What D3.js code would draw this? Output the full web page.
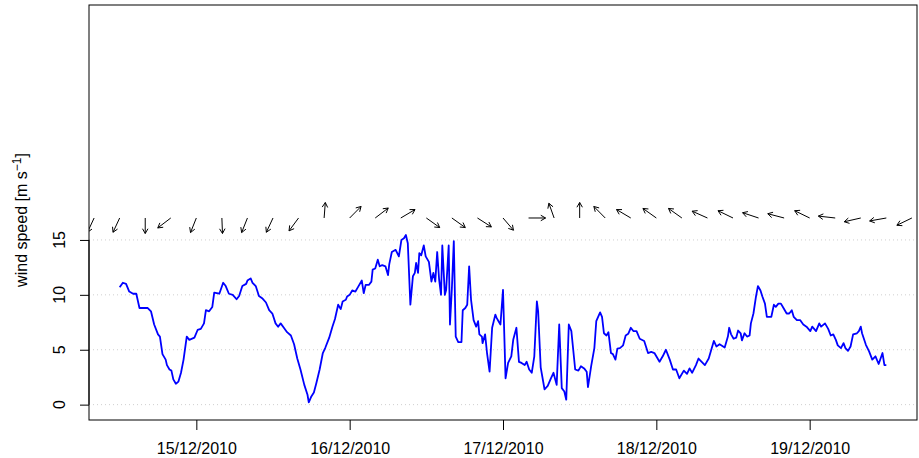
<!DOCTYPE html>
<html>
<head>
<meta charset="utf-8">
<script src="https://cdn.jsdelivr.net/npm/d3@7"></script>
<style>
body { margin: 0; background: #fff; }
text { font-family: "Liberation Sans", Arial, Helvetica, sans-serif; }
</style>
</head>
<body>
<div id="chart"></div>
<script>
// all times are hours after 14/12/2010 00:00
var speedHours = [12.0,12.5,13.0,13.5,14.1,14.6,15.1,16.4,16.9,17.4,18.0,18.3,18.7,19.2,19.4,19.8,20.1,20.4,20.8,21.2,21.6,22.0,22.5,22.9,23.7,
	24.2,24.7,25.2,25.5,26.0,26.5,26.8,27.6,28.2,28.6,29.1,29.7,30.3,30.7,31.2,31.8,32.0,32.5,32.8,33.3,33.8,34.3,34.9,35.4,35.9,36.4,36.8,37.2,37.7,38.2,38.8,39.3,39.8,40.3,40.9,41.4,41.6,42.0,42.4,42.8,43.3,43.8,44.2,44.8,45.3,45.7,46.2,46.6,46.9,47.4,47.6,
	48.0,48.4,48.9,49.3,49.9,50.2,50.5,51.0,51.4,51.6,52.0,52.4,52.7,53.1,53.6,54.0,54.2,54.6,55.2,55.7,56.1,56.5,56.8,57.1,57.5,57.9,58.2,58.4,58.7,58.9,59.2,59.6,59.9,60.4,60.8,61.1,61.4,61.7,62.0,62.3,62.5,62.9,63.1,63.5,63.7,64.0,64.3,64.6,65.0,65.5,65.7,66.1,66.4,66.7,67.0,67.4,67.8,68.1,68.3,68.7,68.8,69.2,69.5,69.9,70.3,70.8,71.0,71.3,71.6,
	72.0,72.4,72.8,73.3,73.6,74.1,74.5,74.9,75.4,75.7,76.1,76.5,76.9,77.3,77.5,77.9,78.5,79.0,79.5,79.9,80.4,80.8,81.2,81.6,81.9,82.3,82.7,83.3,83.8,84.2,84.7,85.1,85.3,85.8,86.3,86.6,87.2,87.5,87.8,88.2,88.5,88.9,89.2,89.6,89.9,90.3,90.8,91.2,91.6,92.0,92.4,92.9,93.4,94.1,94.7,95.2,95.7,
	96.5,97.0,97.5,98.1,98.6,99.1,99.6,100.3,100.8,101.2,101.6,102.2,102.6,103.1,103.6,104.2,104.6,105.0,105.4,105.9,106.7,107.2,107.4,107.7,108.1,108.5,108.8,109.2,109.4,109.8,110.2,110.6,110.8,111.2,111.6,111.9,112.3,112.6,113.0,113.3,114.0,114.4,114.7,115.1,115.5,115.9,116.4,116.8,117.2,117.5,118.0,118.5,119.0,119.5,
	120.1,120.4,121.0,121.5,121.8,122.4,122.9,123.3,123.7,124.1,124.4,124.9,125.3,125.6,126.0,126.4,126.8,127.4,127.7,128.0,128.2,128.8,129.3,129.8,130.3,130.8,131.4,131.7,132.0];
var speedValues = [10.7,11.1,11.0,10.3,10.1,10.1,8.8,8.8,8.5,7.3,6.4,6.2,4.6,4.1,3.6,3.2,3.1,2.3,1.9,2.1,2.9,4.1,6.2,5.9,6.1,
	6.8,6.9,7.4,8.6,8.5,8.9,10.2,10.1,11.1,10.8,10.1,10.0,9.6,9.9,10.8,11.0,11.3,11.5,11.1,10.8,9.9,9.7,9.3,8.6,8.3,7.4,7.1,7.4,7.0,6.6,6.3,5.5,4.2,3.2,1.8,0.9,0.2,0.75,1.1,2.0,3.2,4.7,5.2,6.1,7.1,7.8,9.1,8.7,9.4,9.55,9.85,
	10.0,10.4,10.3,10.7,11.3,10.15,10.9,10.9,11.2,12.3,12.4,13.2,12.6,12.7,12.6,11.8,12.8,13.9,14.1,13.5,15.0,15.15,15.45,14.7,9.1,11.7,12.0,12.9,12.0,13.8,13.6,14.5,13.5,13.0,11.2,12.0,11.2,13.9,11.4,10.0,14.5,10.0,10.45,14.5,7.3,10.6,14.9,6.2,5.7,5.7,8.6,8.8,9.1,12.6,9.55,7.7,7.1,7.6,6.4,6.2,5.6,6.4,4.7,3.0,7.0,8.2,7.9,7.6,7.3,
	10.45,2.4,3.8,4.4,5.9,7.0,3.9,3.8,3.6,3.9,3.2,2.9,4.4,9.4,8.5,3.4,1.4,1.7,2.4,2.9,1.8,7.3,1.5,1.2,0.45,7.3,6.7,3.2,3.1,3.5,3.3,3.0,1.6,3.5,5.15,7.6,8.4,8.0,6.5,6.3,6.6,4.7,4.6,4.1,5.1,5.15,5.4,6.3,6.45,7.0,6.7,6.7,6.0,5.8,4.7,4.8,4.7,
	3.9,4.4,5.0,4.1,3.2,3.2,2.4,3.1,2.8,3.3,2.9,3.6,4.2,3.9,3.6,4.2,5.0,5.8,5.3,5.5,5.2,6.2,7.0,6.4,6.0,6.1,6.75,6.5,5.85,6.5,6.2,6.3,7.4,8.3,9.85,10.8,10.4,9.85,9.2,8.0,8.0,9.1,8.9,9.2,9.2,8.8,8.3,8.3,8.6,8.0,7.7,7.7,7.3,7.1,
	6.7,7.1,6.7,7.4,7.1,7.4,6.9,6.3,6.4,5.9,5.4,5.15,5.6,5.15,4.9,5.3,6.4,6.5,6.7,7.1,6.5,5.45,4.85,4.1,4.4,3.7,4.7,3.6,3.6];

// wind direction (degrees, direction the wind comes from), one every 4 hours
var arrowHours = [8,12,16,20,24,28,32,36,40,44,48,52,56,60,64,68,72,76,80,84,88,92,96,100,104,108,112,116,120,124,128,132,136];
var windDir = [23,23,0,50,20,358,20,23,34,184,222,230,237,308,308,305,322,270,162,180,138,123,128,128,116,118,110,106,118,97,76,79,62];
var arrowLevel = 17;

var yTicks = [0, 5, 10, 15];
var dayHours = [24, 48, 72, 96, 120];
var dayLabels = ["15/12/2010", "16/12/2010", "17/12/2010", "18/12/2010", "19/12/2010"];

var width = 919, height = 458;
var plot = {left: 89, right: 917, top: 5, bottom: 420};
var t0 = Date.UTC(2010, 11, 14);
function toDate(h) { return new Date(t0 + h * 3600000); }

var svg = d3.select("#chart").append("svg")
	.attr("width", width)
	.attr("height", height);

// R style axis limits: data range plus 4% each side
var hExt = d3.extent(speedHours), hPad = (hExt[1] - hExt[0]) * 0.04;
var x = d3.scaleUtc()
	.domain([toDate(hExt[0] - hPad), toDate(hExt[1] + hPad)])
	.range([plot.left, plot.right]);
var yLim = [0, 35], yPad = (yLim[1] - yLim[0]) * 0.04;
var y = d3.scaleLinear()
	.domain([yLim[0] - yPad, yLim[1] + yPad])
	.range([plot.bottom, plot.top]);

svg.append("clipPath").attr("id", "clip")
	.append("rect")
	.attr("x", plot.left).attr("y", plot.top)
	.attr("width", plot.right - plot.left).attr("height", plot.bottom - plot.top);

// dotted grid
svg.append("g").selectAll("line")
	.data(yTicks)
	.enter().append("line")
	.attr("x1", plot.left).attr("x2", plot.right)
	.attr("y1", d => y(d)).attr("y2", d => y(d))
	.attr("stroke", "#cfcfcf")
	.attr("stroke-width", 1)
	.attr("stroke-dasharray", "1 3");

var g = svg.append("g").attr("clip-path", "url(#clip)");

g.append("path")
	.datum(speedHours.map((h, i) => [h, speedValues[i]]))
	.attr("fill", "none")
	.attr("stroke", "#0000ff")
	.attr("stroke-width", 1.8)
	.attr("stroke-linejoin", "round")
	.attr("d", d3.line()
		.x(d => x(toDate(d[0])))
		.y(d => y(d[1])));

// wind arrows, tail at the time, pointing where the wind goes
var lenX = 17, lenY = 15.5, head = 5.5;
arrowHours.forEach(function (h, i) {
	var b = (windDir[i] + 180) * Math.PI / 180;
	var x0 = x(toDate(h)), y0 = y(arrowLevel);
	var x1 = x0 + Math.sin(b) * lenX, y1 = y0 - Math.cos(b) * lenY;
	var a = Math.atan2(y1 - y0, x1 - x0);
	var p = "M" + x0 + "," + y0 + "L" + x1 + "," + y1 +
		"M" + (x1 - head * Math.cos(a - Math.PI / 6)) + "," + (y1 - head * Math.sin(a - Math.PI / 6)) +
		"L" + x1 + "," + y1 +
		"L" + (x1 - head * Math.cos(a + Math.PI / 6)) + "," + (y1 - head * Math.sin(a + Math.PI / 6));
	g.append("path")
		.attr("d", p)
		.attr("fill", "none")
		.attr("stroke", "#000")
		.attr("stroke-width", 1);
});

// box
svg.append("rect")
	.attr("x", plot.left).attr("y", plot.top)
	.attr("width", plot.right - plot.left).attr("height", plot.bottom - plot.top)
	.attr("fill", "none")
	.attr("stroke", "#000")
	.attr("stroke-width", 1);

// x axis
var xAxis = svg.append("g")
	.attr("transform", "translate(0," + plot.bottom + ")")
	.call(d3.axisBottom(x)
		.tickValues(dayHours.map(toDate))
		.tickFormat((d, i) => dayLabels[i])
		.tickSize(10)
		.tickSizeOuter(0)
		.tickPadding(13));
xAxis.select(".domain").remove();
xAxis.selectAll("text").style("font-size", "16px").attr("fill", "#000")
	.style("font-family", "'Liberation Sans', Arial, sans-serif");
xAxis.selectAll("line").attr("stroke", "#000");

// y axis
var yAxis = svg.append("g")
	.attr("transform", "translate(" + plot.left + ",0)")
	.call(d3.axisLeft(y)
		.tickValues(yTicks)
		.tickFormat("")
		.tickSize(9)
		.tickSizeOuter(0));
yAxis.select(".domain").remove();
yAxis.selectAll("line").attr("stroke", "#000");
svg.append("line")
	.attr("x1", plot.left).attr("x2", plot.left)
	.attr("y1", y(yTicks[0])).attr("y2", y(yTicks[yTicks.length - 1]))
	.attr("stroke", "#000");

svg.append("g").selectAll("text")
	.data(yTicks)
	.enter().append("text")
	.attr("transform", d => "translate(65," + y(d) + ") rotate(-90)")
	.attr("text-anchor", "middle")
	.style("font-size", "16px")
	.text(d => d);

var ylab = svg.append("text")
	.attr("transform", "translate(27,220) rotate(-90)")
	.attr("text-anchor", "middle")
	.style("font-size", "16px");
ylab.append("tspan").text("wind speed [m s");
ylab.append("tspan").attr("dy", -6).style("font-size", "12px").text("\u22121");
ylab.append("tspan").attr("dy", 6).text("]");
</script>
</body>
</html>
